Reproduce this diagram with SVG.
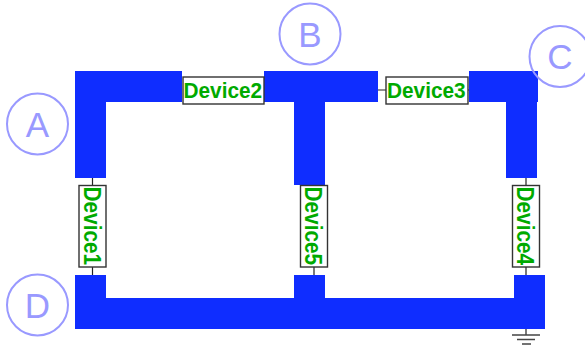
<svg xmlns="http://www.w3.org/2000/svg" width="585" height="347" viewBox="0 0 585 347">
<style>
.bus{fill:#0f2dff}
.w{stroke:#222;stroke-width:1.2;fill:none}
.g{stroke:#444;stroke-width:1.6;fill:none}
.box{fill:#fff;stroke:#333;stroke-width:1.4}
.dev{font:bold 20.8px "Liberation Sans",Arial,sans-serif;fill:#00aa00}
.c{fill:none;stroke:#9999ff;stroke-width:2}
.l{font:35px "Liberation Sans",Arial,sans-serif;fill:#9999ff;text-anchor:middle}
</style>
<rect width="585" height="347" fill="#fff"/>
<g id="connectors">
<path class="w" d="M92.500 178V185M92.500 267V275M314 185V275M526 178V275M378 90H386M468 90H470M526 329V335"/>
<path class="g" d="M512 335H540M517 339.500H535M522 344H531"/>
</g>
<g id="bus-top-left" class="bus"><rect x="75" y="71" width="107" height="31"/><rect x="75" y="71" width="31" height="107"/></g>
<g id="bus-top-mid" class="bus"><rect x="264" y="71" width="114" height="31"/><rect x="294" y="71" width="31" height="114"/></g>
<g id="bus-top-right" class="bus"><rect x="469" y="71" width="69" height="31"/><rect x="506" y="71" width="31" height="107"/></g>
<g id="bus-bottom" class="bus"><rect x="75" y="298" width="470" height="31"/><rect x="75" y="275" width="31" height="30"/><rect x="294" y="275" width="31" height="30"/><rect x="514" y="275" width="31" height="30"/></g>
<g id="device2"><rect class="box" x="183" y="77" width="81" height="27"/><text class="dev" transform="translate(183.500 98.300) scale(1 1.05)">Device2</text></g>
<g id="device3"><rect class="box" x="386" y="77" width="82" height="27"/><text class="dev" transform="translate(387 98.300) scale(1 1.05)">Device3</text></g>
<g id="device1"><rect class="box" x="79" y="185.500" width="27" height="81.500"/><text class="dev" transform="translate(83.500 186.500) rotate(90) scale(1 1.12)">Device1</text></g>
<g id="device5"><rect class="box" x="300.500" y="185.500" width="27" height="81.500"/><text class="dev" transform="translate(305 186.500) rotate(90) scale(1 1.12)">Device5</text></g>
<g id="device4"><rect class="box" x="512.500" y="185.500" width="27" height="81.500"/><text class="dev" transform="translate(517 186.500) rotate(90) scale(1 1.12)">Device4</text></g>
<g id="node-a"><circle class="c" cx="37.500" cy="124" r="30.500"/><text class="l" x="37.500" y="137">A</text></g>
<g id="node-b"><circle class="c" cx="310" cy="34" r="30.500"/><text class="l" x="310" y="47">B</text></g>
<g id="node-c"><circle class="c" cx="560" cy="56.500" r="30.500"/><text class="l" x="560" y="69">C</text></g>
<g id="node-d"><circle class="c" cx="37.500" cy="305" r="30.500"/><text class="l" x="37.500" y="317.500">D</text></g>
</svg>
